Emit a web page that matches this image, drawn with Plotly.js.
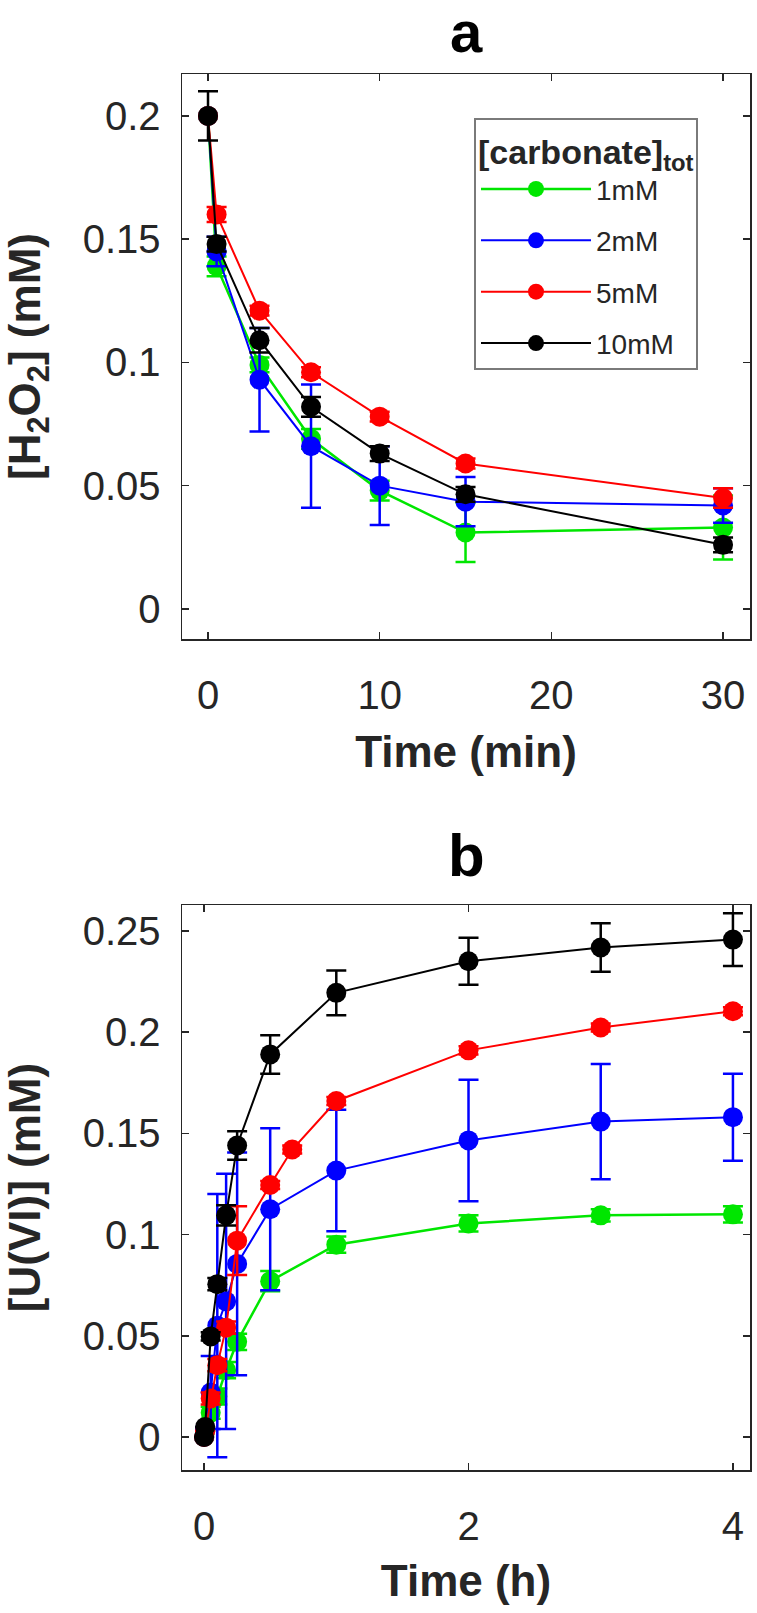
<!DOCTYPE html>
<html>
<head>
<meta charset="utf-8">
<script src="https://cdn.plot.ly/plotly-3.0.1.min.js"></script>
<style>
  html, body { margin: 0; padding: 0; background: #fff; }
  #chart { width: 757px; height: 1613px; }
</style>
</head>
<body>
<div id="chart"></div>
<script>
// series names and colours (legend order)
let seriesNames = ['1mM', '2mM', '5mM', '10mM'];
let seriesColors = ['#00e600', '#0000ff', '#ff0000', '#000000'];

// panel a: H2O2 decay, time in min
let timeA = [0, 0.5, 3, 6, 10, 15, 30];
let h2o2_1mM  = [0.200, 0.139, 0.099, 0.069, 0.048, 0.031, 0.033];
let h2o2_2mM  = [0.200, 0.145, 0.093, 0.066, 0.050, 0.0435, 0.042];
let h2o2_5mM  = [0.200, 0.160, 0.121, 0.096, 0.078, 0.059, 0.045];
let h2o2_10mM = [0.200, 0.148, 0.109, 0.082, 0.063, 0.0465, 0.026];
let h2o2Err_1mM  = [0, 0.004, 0.003, 0.004, 0.004, 0.012, 0.013];
let h2o2Err_2mM  = [0, 0.006, 0.021, 0.025, 0.016, 0.010, 0.007];
let h2o2Err_5mM  = [0, 0.003, 0.002, 0.002, 0.002, 0.002, 0.004];
let h2o2Err_10mM = [0.010, 0.003, 0.005, 0.004, 0.003, 0.003, 0.003];

// panel b: U(VI) release, time in h
let timeB = [0, 0.0083, 0.05, 0.1, 0.1667, 0.25, 0.5, 1, 2, 3, 4];
let timeB_5mM = [0, 0.0083, 0.05, 0.1, 0.1667, 0.25, 0.5, 0.6667, 1, 2, 3, 4];
let u6_1mM  = [0, 0.003, 0.012, 0.020, 0.033, 0.047, 0.077, 0.095, 0.1055, 0.1095, 0.110];
let u6_2mM  = [0, 0.004, 0.022, 0.055, 0.067, 0.0855, 0.1125, 0.1316, 0.1465, 0.1558, 0.158];
let u6_5mM  = [0, 0.003, 0.019, 0.0355, 0.054, 0.097, 0.1245, 0.142, 0.166, 0.191, 0.2023, 0.2103];
let u6_10mM = [0, 0.005, 0.0497, 0.0755, 0.1095, 0.144, 0.189, 0.2194, 0.235, 0.2418, 0.2457];
let u6Err_1mM  = [0, 0, 0.003, 0.004, 0.004, 0.004, 0.005, 0.004, 0.004, 0.003, 0.004];
let u6Err_2mM  = [0, 0, 0.018, 0.065, 0.063, 0.055, 0.040, 0.030, 0.030, 0.0285, 0.0215];
let u6Err_5mM  = [0, 0, 0.003, 0.003, 0.003, 0.017, 0.002, 0.002, 0.002, 0.002, 0.002, 0.002];
let u6Err_10mM = [0, 0, 0.002, 0.003, 0.005, 0.007, 0.0095, 0.011, 0.0116, 0.012, 0.013];

// tick labels
let tickA_x = [0, 10, 20, 30];
let tickA_y = [0, 0.05, 0.1, 0.15, 0.2];
let tickA_yText = ['0', '0.05', '0.1', '0.15', '0.2'];
let tickB_x = [0, 2, 4];
let tickB_y = [0, 0.05, 0.1, 0.15, 0.2, 0.25];
let tickB_yText = ['0', '0.05', '0.1', '0.15', '0.2', '0.25'];

const W = 757, H = 1613;
const FONT = '"Liberation Sans", Arial, Helvetica, sans-serif';
const AXC = '#262626';

let makeTrace = (x, y, err, i, xa, ya, legend) => ({
    x: x,
    y: y,
    type: 'scatter',
    mode: 'lines+markers',
    name: seriesNames[i],
    legendgroup: 'g' + i,
    showlegend: legend,
    xaxis: xa,
    yaxis: ya,
    line: { color: seriesColors[i], width: i === 0 ? 2.5 : 2 },
    marker: { color: seriesColors[i], size: 20, symbol: 'circle', line: { width: 0 } },
    error_y: { type: 'data', array: err, visible: true, color: seriesColors[i], thickness: 2.5, width: 10 },
    cliponaxis: true
});

let dataDraw = [
    makeTrace(timeA, h2o2_1mM, h2o2Err_1mM, 0, 'x', 'y', true),
    makeTrace(timeA, h2o2_2mM, h2o2Err_2mM, 1, 'x', 'y', true),
    makeTrace(timeA, h2o2_5mM, h2o2Err_5mM, 2, 'x', 'y', true),
    makeTrace(timeA, h2o2_10mM, h2o2Err_10mM, 3, 'x', 'y', true),
    makeTrace(timeB, u6_1mM, u6Err_1mM, 0, 'x2', 'y2', false),
    makeTrace(timeB, u6_2mM, u6Err_2mM, 1, 'x2', 'y2', false),
    makeTrace(timeB_5mM, u6_5mM, u6Err_5mM, 2, 'x2', 'y2', false),
    makeTrace(timeB, u6_10mM, u6Err_10mM, 3, 'x2', 'y2', false)
];

let axis = (extra) => Object.assign({
    showgrid: false,
    zeroline: false,
    showline: true,
    linecolor: AXC,
    linewidth: 1.5,
    mirror: 'ticks',
    ticks: 'inside',
    ticklen: 7,
    tickwidth: 1.5,
    tickcolor: AXC,
    tickfont: { family: FONT, size: 40, color: AXC },
    automargin: false
}, extra);

let px = (v) => v / W;
let py = (v) => 1 - v / H;

let layout = {
    width: W,
    height: H,
    margin: { l: 0, r: 0, t: 0, b: 0 },
    paper_bgcolor: '#fff',
    plot_bgcolor: '#fff',
    font: { family: FONT, color: AXC },
    xaxis: axis({
        domain: [px(182), px(750)], anchor: 'y',
        range: [-1.515, 31.57], tickvals: tickA_x,
        ticklabelstandoff: 20,
        title: { text: '<b>Time (min)</b>', font: { family: FONT, size: 44, color: AXC }, standoff: 20 }
    }),
    yaxis: axis({
        domain: [py(639), py(74)], anchor: 'x',
        range: [-0.0122, 0.217], tickvals: tickA_y, ticktext: tickA_yText,
        ticklabelstandoff: 12,
        title: { text: '<b>[H<sub>2</sub>O<sub>2</sub>] (mM)</b>', font: { family: FONT, size: 44, color: AXC }, standoff: 28 }
    }),
    xaxis2: axis({
        domain: [px(182), px(750)], anchor: 'y2',
        range: [-0.167, 4.129], tickvals: tickB_x,
        ticklabelstandoff: 20,
        title: { text: '<b>Time (h)</b>', font: { family: FONT, size: 44, color: AXC }, standoff: 18 }
    }),
    yaxis2: axis({
        domain: [py(1470), py(905)], anchor: 'x2',
        range: [-0.0163, 0.2628], tickvals: tickB_y, ticktext: tickB_yText,
        ticklabelstandoff: 12,
        title: { text: '<b>[U(VI)] (mM)</b>', font: { family: FONT, size: 44, color: AXC }, standoff: 28 }
    }),
    legend: {
        x: px(474), y: py(118), xanchor: 'left', yanchor: 'top',
        xref: 'paper', yref: 'paper',
        bgcolor: '#fff', bordercolor: '#7a7a7a', borderwidth: 2,
        font: { family: FONT, size: 28, color: AXC },
        title: { text: '<b>[carbonate]<sub>tot</sub></b>', font: { family: FONT, size: 34, color: AXC } },
        tracegroupgap: 12,
        itemwidth: 110
    },
    annotations: [
        { text: '<b>a</b>', x: px(466), y: py(32), xref: 'paper', yref: 'paper', showarrow: false,
          xanchor: 'center', yanchor: 'middle', font: { family: FONT, size: 58, color: '#000' } },
        { text: '<b>b</b>', x: px(466), y: py(855), xref: 'paper', yref: 'paper', showarrow: false,
          xanchor: 'center', yanchor: 'middle', font: { family: FONT, size: 60, color: '#000' } }
    ]
};

Plotly.newPlot('chart', dataDraw, layout, { staticPlot: true, displayModeBar: false });
</script>
</body>
</html>
